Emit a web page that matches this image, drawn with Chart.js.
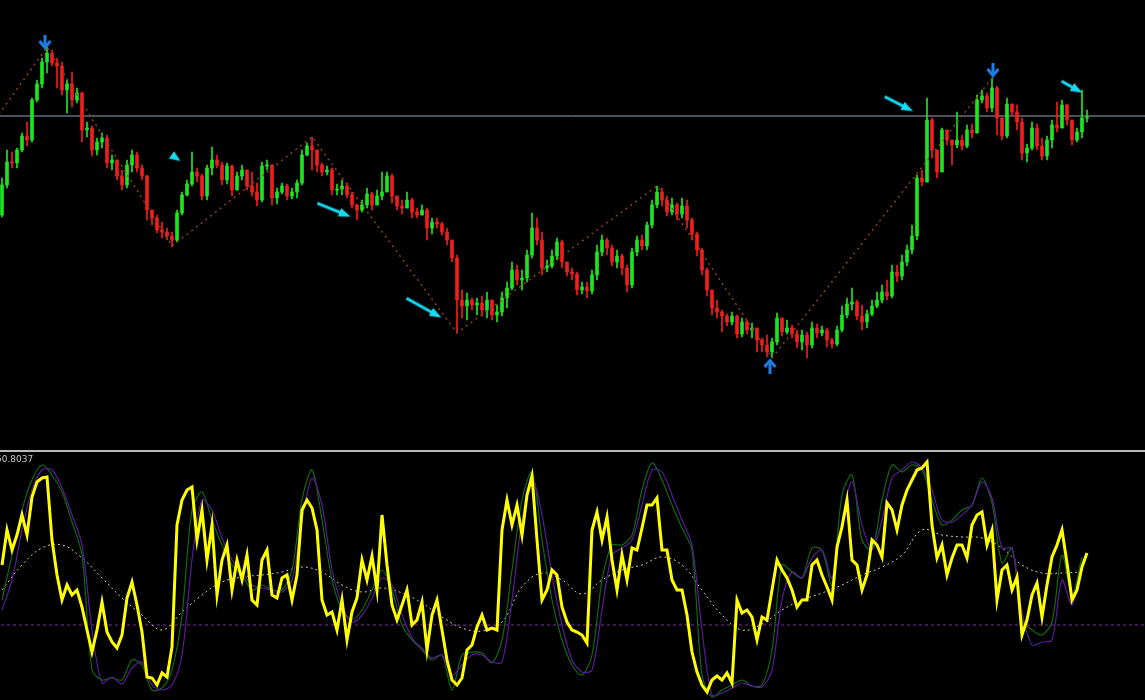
<!DOCTYPE html>
<html>
<head>
<meta charset="utf-8">
<script src="https://cdn.jsdelivr.net/npm/chart.js@4.4.1/dist/chart.umd.min.js"></script>
<style>
    html, body { margin: 0; padding: 0; background: #000; overflow: hidden; }
    #wrap { position: relative; width: 1145px; height: 700px; background: #000; }
    #priceBox { position: absolute; left: 0; top: 0; width: 1145px; height: 450px; }
    #sep { position: absolute; left: 0; top: 450px; width: 1145px; height: 2px; background: #b9b9b9; }
    #oscBox { position: absolute; left: 0; top: 453px; width: 1145px; height: 247px; }
    #oscLabel { position: absolute; left: -4px; top: 454px; font: 9px "DejaVu Sans", sans-serif; color: #c8c8c8; }
</style>
</head>
<body>
<div id="wrap">
    <div id="priceBox"><canvas id="priceChart" width="1145" height="450"></canvas></div>
    <div id="sep"></div>
    <div id="oscBox"><canvas id="oscChart" width="1145" height="247"></canvas></div>
    <div id="oscLabel">50.8037</div>
</div>
<script>
// ─── price data (points), one candle per bar index ───
const firstOpen = 235;
const closes = [
    265,288,287,300,314,310,350,366,388,397,387,384,360,366,350,357,320,322,300,308,312,287,290,274,
    265,285,295,282,274,240,232,220,218,214,210,237,255,266,278,274,254,282,290,285,270,284,260,274,
    280,264,258,250,284,285,252,258,264,254,258,267,295,304,300,285,278,280,260,261,264,255,245,240,245,256,245,254,258,274,254,244,
    242,250,238,235,240,222,228,226,218,210,192,150,144,150,145,147,140,150,135,138,152,162,180,170,172,195,222,210,182,184,194,208,188,178,176,160,163,159,175,198,
    210,202,188,194,182,165,198,210,204,225,245,258,250,238,245,236,244,230,216,200,
    180,160,142,138,134,128,134,116,128,120,122,110,105,98,108,132,118,122,116,108,115,105,122,117,120,110,106,120,135,146,
    148,134,128,136,144,150,158,154,178,174,188,200,214,272,268,330,
    300,278,320,310,305,310,304,320,317,350,354,342,362,332,314,346,338,328,297,302,322,304,294,310,325,322,345,330,310,318,332,333
];
const highs = [
    272,300,298,302,317,328,352,370,392,403,400,392,388,370,378,362,358,328,324,312,317,315,295,288,
    280,290,300,298,285,275,240,235,228,222,218,240,258,270,298,282,276,285,303,295,288,287,285,278,
    285,280,278,267,288,290,282,262,267,266,262,270,300,307,313,290,287,284,282,266,270,267,258,246,250,262,258,260,278,278,276,252,
    250,258,252,242,245,242,232,232,228,222,210,195,160,157,152,152,154,158,144,145,158,168,188,185,180,200,237,232,218,190,200,212,210,188,182,178,168,168,180,205,
    215,212,205,200,196,185,202,214,215,228,250,264,262,254,252,247,252,250,232,218,
    202,182,155,150,140,136,138,135,132,130,127,120,112,115,112,137,132,130,125,120,120,118,128,126,124,122,112,124,144,152,
    162,150,145,140,150,158,165,170,185,185,195,205,225,275,280,352,
    332,290,322,315,310,338,315,325,326,355,360,357,372,364,322,352,346,345,332,306,328,326,312,314,330,348,350,346,330,322,360,340
];
const lows = [
    233,262,282,282,298,304,308,348,362,377,384,362,355,337,343,347,308,313,294,295,302,282,280,270,
    260,262,278,278,270,230,225,217,212,210,203,208,235,254,264,268,250,250,275,282,265,266,254,262,
    270,260,254,244,248,280,245,246,256,250,251,252,265,294,280,278,274,275,255,255,255,252,242,230,238,242,240,248,250,270,247,240,
    236,245,232,232,235,210,216,222,215,205,188,117,132,130,140,135,134,132,130,128,134,142,160,165,160,168,192,205,175,178,182,190,182,174,170,155,156,152,156,170,
    194,195,184,182,175,158,162,194,200,200,222,242,244,234,235,230,232,222,210,194,
    175,154,135,132,118,124,125,112,113,116,112,98,98,93,92,105,114,116,112,102,100,92,102,112,114,103,102,104,118,132,
    140,130,120,122,134,142,147,150,152,168,170,184,196,210,264,268,
    292,272,280,305,285,302,300,302,312,320,347,338,338,315,310,312,334,320,290,288,300,300,290,290,302,318,324,325,305,308,312,328
];

// zigzag pivots (bar index, price)
const zigIndex = [-2, 9, 34, 62, 91, 131, 154, 198];
const zigPrice = [326, 403, 204, 313, 117, 264, 92, 372];

// horizontal price level
const levelPrice = 334;

// signal arrows
const downIndex = [8.6, 198.2];
const downPrice = [408, 380];
const upIndex = [153.6];
const upPrice = [84];
const cyanIndex = [34.8, 66.4, 84.4, 179.4, 214];
const cyanPrice = [292, 240, 142, 346, 363];
const cyanLength = [11, 36, 40, 32, 24];
const cyanAngle = [35, 22, 29, 27, 29];

// ─── oscillator data ───
// fast line, one value per bar
const fastLine = [
    60,95,75,90,110,90,128,143,147,148,
    85,50,25,40,30,35,18,-5,-27,-5,
    23,-7,-17,-23,-10,27,43,20,-7,-52,
    -53,-60,-48,-52,-22,100,125,135,138,85,
    115,65,100,30,65,80,35,65,45,70,
    25,20,65,75,30,27,47,50,25,50,
    115,125,117,95,25,10,13,-5,25,-15,
    13,27,65,45,69,35,110,60,20,5,
    20,35,0,5,23,-25,10,25,-5,-35,
    -55,-60,-53,-25,-20,-2,10,-5,-3,-5,
    95,125,100,120,90,130,149,85,25,35,
    55,50,18,3,-5,-7,-10,-18,95,113,
    85,108,65,35,70,45,77,75,97,120,
    120,127,75,75,45,35,35,10,-27,-47,
    -60,-67,-55,-51,-55,-48,-58,25,12,15,
    8,-15,8,5,35,65,55,47,35,18,
    25,25,60,65,50,38,25,78,98,125,
    65,60,35,50,85,80,68,122,115,95,
    120,135,145,155,157,163,100,67,80,50,
    67,80,80,67,100,110,113,80,95,25,
    55,60,35,48,-10,5,30,42,8,40,
    68,80,95,62,25,35,58,72
];
// signal lines, one value every 2 bars
const greenLine = [
    25,70,115,145,160,150,133,103,70,-45,
    -55,-53,-55,-35,-40,-65,-63,-45,10,115,
    133,105,80,60,50,35,40,35,35,55,
    125,155,105,45,15,5,15,35,55,35,
    0,-15,-25,-35,-30,-65,-30,-27,-28,-38,
    -15,55,125,153,85,25,-15,-40,-50,-30,
    45,80,80,90,135,162,145,120,97,75,
    -50,-72,-65,-60,-55,-61,-60,-25,60,53,
    47,77,75,40,130,150,85,75,125,160,
    153,160,155,125,100,105,115,120,147,122,
    62,77,5,-5,-10,3,70,30,68
];
const purpleLine = [
    15,45,95,135,155,155,137,110,80,-5,
    -58,-52,-59,-43,-37,-60,-65,-60,-30,65,
    125,115,87,65,53,40,37,35,33,45,
    105,147,120,55,20,3,10,27,47,40,
    10,-13,-23,-33,-30,-50,-40,-30,-30,-37,
    -37,25,105,147,110,50,0,-35,-47,-45,
    15,70,77,85,120,155,153,130,105,80,
    -5,-70,-68,-63,-58,-61,-62,-45,25,53,
    47,67,75,47,105,143,100,75,105,147,
    155,163,157,135,105,103,110,120,143,127,
    77,77,13,-20,-17,-15,45,20,60
];
// slow average, one value every 4 bars
const slowAvg = [
    35,60,77,80,67,47,27,10,-5,13,30,43,48,50,53,58,53,40,33,37,
    32,22,8,-3,-6,3,38,52,45,31,45,55,60,68,60,35,10,-5,1,15,
    25,32,40,50,58,70,95,90,88,87,77,60,52,52,53
];
const zeroLevel = 0;

// ─── colours ───
const bullColor = '#1ee61e';
const bearColor = '#f01e1e';

// x range shared by both panels
const xMin = -0.4;
const xMax = 228.6;

// ─── arrow glyphs (drawn as point styles) ───
function makeBlueArrow(pointDown) {
    const c = document.createElement('canvas');
    c.width = 14; c.height = 15;
    const g = c.getContext('2d');
    g.fillStyle = '#1f7ee6';
    g.strokeStyle = '#1f7ee6';
    g.lineWidth = 3;
    if (!pointDown) { g.translate(0, 15); g.scale(1, -1); }
    g.fillRect(5.5, 0, 3, 13);
    g.beginPath();
    g.moveTo(1.5, 6.5);
    g.lineTo(7, 13);
    g.lineTo(12.5, 6.5);
    g.stroke();
    return c;
}

function makeCyanArrow(len) {
    const head = Math.min(12, len);
    const c = document.createElement('canvas');
    c.width = len + 2; c.height = 12;
    const g = c.getContext('2d');
    g.fillStyle = '#17d9ef';
    if (len > head) g.fillRect(1, 4.5, len - head + 1, 3);
    g.beginPath();
    g.moveTo(len + 1, 6);
    g.lineTo(len + 1 - head, 1.5);
    g.lineTo(len + 1 - head, 10.5);
    g.closePath();
    g.fill();
    return c;
}

const pts = (xs, ys) => xs.map((x, i) => ({ x: x, y: ys[i] }));
const everyN = (vals, n) => vals.map((v, k) => ({ x: k * n, y: v }));

// ─── price panel ───
const opens = closes.map((c, i) => i === 0 ? firstOpen : closes[i - 1]);
const candleColors = closes.map((c, i) => c >= opens[i] ? bullColor : bearColor);
const bodyData = closes.map((c, i) => ({ x: i, y: [opens[i], c] }));
const wickData = closes.map((c, i) => ({
    x: i,
    y: [Math.min(lows[i], opens[i], c), Math.max(highs[i], opens[i], c)]
}));

new Chart(document.getElementById('priceChart'), {
    type: 'bar',
    data: {
        datasets: [
            {
                type: 'line',
                data: pts(downIndex, downPrice),
                showLine: false,
                pointStyle: makeBlueArrow(true),
                pointRadius: 7
            },
            {
                type: 'line',
                data: pts(upIndex, upPrice),
                showLine: false,
                pointStyle: makeBlueArrow(false),
                pointRadius: 7
            },
            {
                type: 'line',
                data: pts(cyanIndex, cyanPrice),
                showLine: false,
                pointStyle: cyanLength.map(makeCyanArrow),
                pointRotation: cyanAngle,
                pointRadius: 7
            },
            {
                type: 'line',
                data: pts(zigIndex, zigPrice),
                borderColor: '#8a4414',
                borderWidth: 1.5,
                borderDash: [2, 4],
                pointRadius: 0,
                tension: 0
            },
            {
                data: bodyData,
                backgroundColor: candleColors,
                barThickness: 3,
                minBarLength: 1,
                grouped: false,
                borderWidth: 0
            },
            {
                data: wickData,
                backgroundColor: candleColors,
                barThickness: 1,
                grouped: false,
                borderWidth: 0
            },
            {
                type: 'line',
                data: [{ x: xMin - 1, y: levelPrice }, { x: xMax + 1, y: levelPrice }],
                borderColor: '#8fa3c0',
                borderWidth: 1,
                pointRadius: 0
            }
        ]
    },
    options: {
        responsive: false,
        animation: false,
        events: [],
        layout: { padding: 0, autoPadding: false },
        scales: {
            x: { type: 'linear', min: xMin, max: xMax, offset: false, display: false },
            y: { min: 0, max: 450, display: false }
        },
        plugins: { legend: { display: false }, tooltip: { enabled: false } }
    }
});

// ─── oscillator panel ───
new Chart(document.getElementById('oscChart'), {
    type: 'line',
    data: {
        datasets: [
            {
                data: everyN(fastLine, 1),
                borderColor: '#ffff00',
                borderWidth: 3,
                pointRadius: 0,
                tension: 0
            },
            {
                data: everyN(purpleLine, 2),
                borderColor: '#5a1a9c',
                borderWidth: 1.2,
                pointRadius: 0,
                tension: 0.3
            },
            {
                data: everyN(greenLine, 2),
                borderColor: '#0f6a12',
                borderWidth: 1.2,
                pointRadius: 0,
                tension: 0.3
            },
            {
                data: everyN(slowAvg, 4),
                borderColor: '#cfc6b6',
                borderWidth: 1,
                borderDash: [2, 3],
                pointRadius: 0,
                tension: 0.4
            },
            {
                data: [{ x: xMin - 1, y: zeroLevel }, { x: xMax + 1, y: zeroLevel }],
                borderColor: '#7a2c9e',
                borderWidth: 1,
                borderDash: [3, 3],
                pointRadius: 0
            }
        ]
    },
    options: {
        responsive: false,
        animation: false,
        events: [],
        layout: { padding: 0, autoPadding: false },
        scales: {
            x: { type: 'linear', min: xMin, max: xMax, display: false },
            y: { min: -75, max: 172, display: false }
        },
        plugins: { legend: { display: false }, tooltip: { enabled: false } }
    }
});
</script>
</body>
</html>
